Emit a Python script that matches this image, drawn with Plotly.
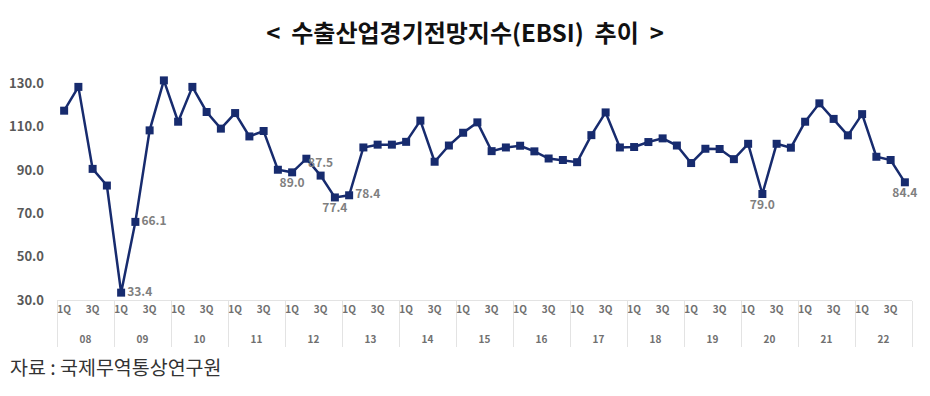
import plotly.graph_objects as go

years = ["08", "09", "10", "11", "12", "13", "14", "15", "16", "17", "18", "19", "20", "21", "22"]
quarter_labels = ["1Q", " ", "3Q", "  "]

ebsi = [
    117.5, 128.5, 90.6, 82.9,
    33.4, 66.1, 108.4, 131.5,
    112.4, 128.5, 116.9, 109.2,
    116.4, 105.6, 108.1, 90.2,
    89.0, 95.3, 87.5, 77.4,
    78.4, 100.5, 101.8, 101.8,
    103.1, 112.9, 93.9, 101.4,
    107.3, 112.1, 98.8, 100.5,
    101.3, 98.7, 95.4, 94.7,
    93.7, 106.2, 116.7, 100.5,
    100.7, 103.0, 104.7, 101.4,
    93.3, 99.9, 99.8, 95.1,
    102.2, 79.0, 102.2, 100.4,
    112.4, 120.9, 113.7, 106.1,
    115.9, 96.2, 94.7, 84.4,
]

# labelled points: index -> position
label_pos = {4: "middle right", 5: "middle right", 16: "bottom center", 18: "top center",
             19: "bottom center", 20: "middle right", 49: "bottom center", 59: "bottom center"}

# year labels drawn one line lower (leading blank line) to leave room under the quarter labels
x_outer = [" <br>" + y for y in years for _ in quarter_labels]
x_inner = [q for _ in years for q in quarter_labels]
texts = [f"{v:.1f}" if i in label_pos else "" for i, v in enumerate(ebsi)]
textpos = [label_pos.get(i, "middle right") for i in range(len(ebsi))]

navy = "#172B6E"
font_main = "Noto Sans CJK KR"

fig = go.Figure()
fig.add_trace(go.Scatter(
    x=[x_outer, x_inner], y=ebsi,
    mode="lines+markers+text",
    line=dict(color=navy, width=2.5),
    marker=dict(symbol="square", size=8, color=navy),
    text=texts, textposition=textpos,
    textfont=dict(family=font_main, size=12, color="#7F7F7F", weight="bold"),
    cliponaxis=False,
    showlegend=False,
    hoverinfo="skip",
))

fig.update_layout(
    width=930, height=396,
    margin=dict(l=57, r=18, t=62, b=96, autoexpand=False),
    paper_bgcolor="white", plot_bgcolor="white",
    title=dict(text="<  수출산업경기전망지수(EBSI)  추이  >", x=0.5, xanchor="center",
               xref="container", y=0.915, yref="container", yanchor="middle",
               font=dict(family=font_main, size=24, color="#111111", weight="bold")),
    xaxis=dict(type="multicategory", showgrid=False, showline=True, linecolor="#E3E3E3",
               linewidth=1, showdividers=True, dividercolor="#E3E3E3", dividerwidth=1,
               range=[-0.5, len(ebsi) - 0.5], autorange=False,
               tickmode="linear", tick0=0, dtick=1, tickangle=0, automargin=False,
               tickfont=dict(family=font_main, size=10, color="#707070", weight="bold"),
               zeroline=False),
    yaxis=dict(range=[30, 140], autorange=False, tickmode="array", tickvals=[30, 50, 70, 90, 110, 130],
               ticktext=["30.0", "50.0", "70.0", "90.0", "110.0", "130.0"],
               showgrid=False, zeroline=False, showline=False, ticklabelstandoff=12,
               automargin=False,
               tickfont=dict(family=font_main, size=13, color="#595959", weight="bold")),
    annotations=[dict(text="자료 : 국제무역통상연구원", xref="paper", yref="paper",
                      x=-0.057, y=-0.28, xanchor="left", yanchor="middle", showarrow=False,
                      font=dict(family=font_main, size=19.5, color="#333333"))],
)

fig.write_html("out.html", config={"displayModeBar": False},
               post_script="document.body.style.margin='0';")
